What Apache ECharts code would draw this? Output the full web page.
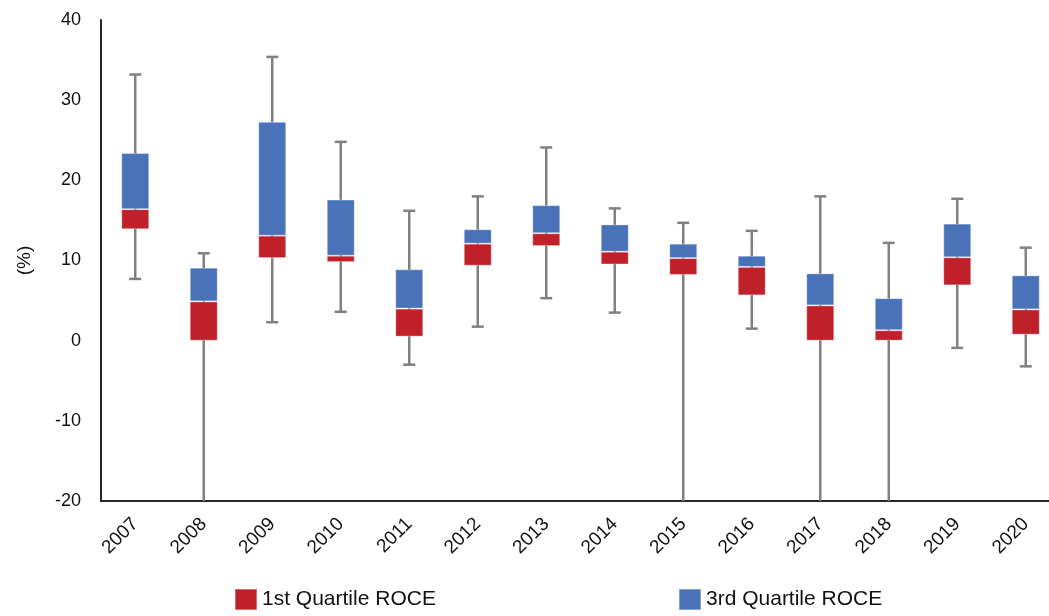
<!DOCTYPE html>
<html>
<head>
<meta charset="utf-8">
<script src="https://cdn.jsdelivr.net/npm/echarts@6/dist/echarts.min.js"></script>
<style>html,body{margin:0;padding:0;background:#fff;}#c{width:1049px;height:616px;}</style>
</head>
<body>
<div id="c"></div>
<script>
const years = ['2007','2008','2009','2010','2011','2012','2013','2014','2015','2016','2017','2018','2019','2020'];
const minVals = [7.7, -20, 2.3, 3.6, -3.0, 1.75, 5.3, 3.5, -20, 1.5, -20, -20, -0.9, -3.2];
const q1Vals  = [13.9, 0.0, 10.3, 9.8, 0.5, 9.35, 11.8, 9.5, 8.2, 5.65, 0.0, 0.0, 6.9, 0.75];
const medVals = [16.4, 4.9, 13.1, 10.6, 4.0, 12.1, 13.4, 11.1, 10.3, 9.2, 4.4, 1.3, 10.4, 3.9];
const q3Vals  = [23.4, 9.1, 27.3, 17.6, 8.9, 13.9, 16.9, 14.5, 12.1, 10.6, 8.4, 5.3, 14.6, 8.15];
const maxVals = [33.2, 10.9, 35.4, 24.8, 16.2, 18.0, 24.1, 16.5, 14.7, 13.7, 18.0, 12.2, 17.7, 11.6];
const yTicks = { min: -20, max: 40, interval: 10 };

const RED = '#C0202A', BLUE = '#4A72B8', GREY = '#808080', DARK = '#262626';
const FONT = 'Liberation Sans, Arial, sans-serif';

const baseData = q1Vals;
const redData = medVals.map((m, i) => +(m - q1Vals[i]).toFixed(3));
const blueData = q3Vals.map((q, i) => +(q - medVals[i]).toFixed(3));
const whiskerData = years.map((y, i) => [i, minVals[i], maxVals[i]]);

const chart = echarts.init(document.getElementById('c'));
chart.setOption({
  animation: false,
  grid: { left: 101, top: 20, width: 959, height: 481, containLabel: false, outerBoundsMode: 'none' },
  legend: [
    { data: ['1st Quartile ROCE'], left: 229, top: 583, itemWidth: 22, itemHeight: 21, icon: 'rect', itemGap: 8,
      textStyle: { fontFamily: FONT, fontSize: 21, color: '#111' } },
    { data: ['3rd Quartile ROCE'], left: 673, top: 583, itemWidth: 22, itemHeight: 21, icon: 'rect', itemGap: 8,
      textStyle: { fontFamily: FONT, fontSize: 21, color: '#111' } }
  ],
  xAxis: {
    type: 'category', data: years,
    axisLine: { onZero: false, lineStyle: { color: DARK, width: 2 } },
    axisTick: { show: false },
    axisLabel: { rotate: 45, fontFamily: FONT, fontSize: 19, color: '#111', margin: 20 }
  },
  yAxis: {
    type: 'value', min: yTicks.min, max: yTicks.max, interval: yTicks.interval,
    name: '(%)', nameLocation: 'middle', nameGap: 67, nameRotate: 90,
    nameTextStyle: { fontFamily: FONT, fontSize: 19, color: '#111' },
    axisLine: { show: true, lineStyle: { color: DARK, width: 2 } },
    axisTick: { show: false },
    splitLine: { show: false },
    axisLabel: { fontFamily: FONT, fontSize: 18, color: '#111', margin: 20 }
  },
  series: [
    {
      type: 'custom', name: 'whisker', z: 1, data: whiskerData,
      renderItem: function (params, api) {
        const x = api.value(0);
        const lo = api.coord([x, api.value(1)]);
        const hi = api.coord([x, api.value(2)]);
        const half = 6;
        const style = { stroke: GREY, lineWidth: 2.5 };
        const children = [
          { type: 'line', shape: { x1: lo[0], y1: lo[1], x2: hi[0], y2: hi[1] }, style: style },
          { type: 'line', shape: { x1: hi[0] - half, y1: hi[1], x2: hi[0] + half, y2: hi[1] }, style: style }
        ];
        if (api.value(1) > yTicks.min) {
          children.push({ type: 'line', shape: { x1: lo[0] - half, y1: lo[1], x2: lo[0] + half, y2: lo[1] }, style: style });
        }
        return { type: 'group', children: children };
      }
    },
    { type: 'bar', name: 'base', stack: 'box', data: baseData, barWidth: 28, z: 2,
      itemStyle: { color: 'transparent' }, silent: true },
    { type: 'bar', name: '1st Quartile ROCE', stack: 'box', data: redData, barWidth: 28, z: 2,
      itemStyle: { color: RED, borderColor: 'rgba(255,255,255,0.35)', borderWidth: 1 } },
    { type: 'bar', name: '3rd Quartile ROCE', stack: 'box', data: blueData, barWidth: 28, z: 2,
      itemStyle: { color: BLUE, borderColor: 'rgba(255,255,255,0.35)', borderWidth: 1 } }
  ]
});
</script>
</body>
</html>
